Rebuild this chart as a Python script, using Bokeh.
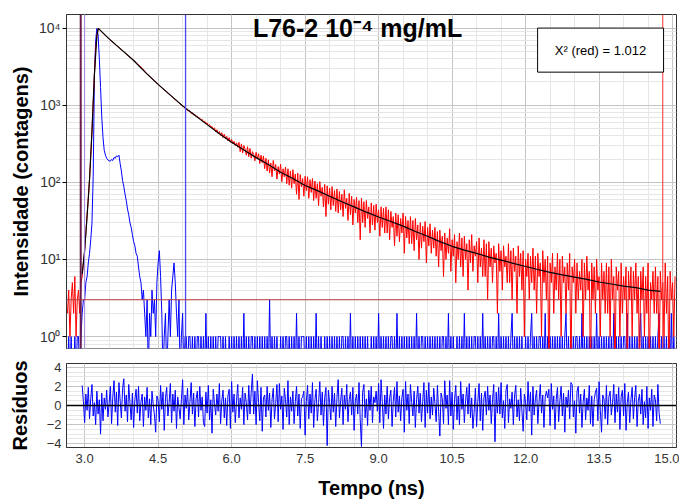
from bokeh.plotting import figure
from bokeh.layouts import column
from bokeh.models import (Range1d, FixedTicker, Span, BoxAnnotation, Label,
                          CustomJSTickFormatter, PrintfTickFormatter)
from bokeh.embed import file_html
from bokeh.resources import INLINE

# ---------------- data ----------------
channel_start = 2.65   # ns
channel_width = 0.025  # ns

decay_counts = [
    2, 4, 1, 3, 5, 2, 6, 1, 3, 4, 2, 5, 6, 9, 13, 22, 38, 62, 110, 220,
    470, 1100, 2550, 5200, 8100, 9800, 9600, 9250, 8900, 8600, 8300, 8000, 7750, 7480, 7240, 7010, 6780, 6560, 6350, 6150,
    5950, 5760, 5580, 5410, 5250, 5090, 4930, 4780, 4630, 4490, 4350, 4220, 4090, 3960, 3800, 3690, 3570, 3450, 3340, 3230,
    3120, 3010, 2900, 2760, 2640, 2560, 2460, 2380, 2290, 2220, 2140, 2070, 1990, 1930, 1860, 1800, 1740, 1690, 1630, 1580,
    1530, 1490, 1420, 1400, 1340, 1310, 1255, 1230, 1170, 1160, 1100, 1080, 1030, 1020, 965, 960, 905, 900, 850, 845,
    840, 780, 800, 745, 760, 715, 720, 690, 680, 640, 655, 610, 620, 580, 590, 545, 560, 520, 530, 490,
    510, 450, 480, 430, 455, 405, 440, 380, 420, 365, 395, 345, 380, 330, 360, 318, 340, 300, 325, 285,
    330, 250, 315, 240, 300, 270, 225, 290, 215, 275, 205, 250, 230, 190, 245, 200, 235, 175, 225, 180,
    220, 150, 205, 140, 196, 132, 178, 118, 192, 140, 170, 110, 160, 128, 172, 102, 150, 118, 158, 96,
    150, 92, 140, 84, 146, 96, 128, 70, 132, 60, 126, 88, 112, 66, 120, 78, 118, 62, 108, 74,
    112, 58, 104, 62, 96, 50, 102, 66, 86, 48, 94, 36, 90, 52, 84, 44, 88, 50, 78, 42,
    82, 40, 76, 44, 70, 36, 80, 46, 62, 32, 72, 38, 66, 28, 60, 40, 64, 30, 58, 18,
    62, 30, 56, 26, 58, 34, 48, 22, 54, 28, 50, 24, 52, 30, 44, 20, 48, 26, 46, 22,
    48, 22, 44, 18, 42, 26, 36, 15, 40, 20, 38, 17, 34, 22, 40, 12, 36, 19, 32, 16,
    36, 16, 32, 13, 34, 18, 28, 10, 30, 14, 27, 17, 31, 9, 26, 15, 29, 12, 24, 14,
    26, 11, 23, 8, 24, 13, 20, 6, 22, 10, 19, 12, 25, 7, 18, 11, 21, 5, 17, 10,
    22, 8, 19, 6, 20, 10, 16, 4, 18, 9, 21, 7, 15, 11, 17, 5, 19, 8, 14, 6,
    18, 6, 16, 3, 17, 8, 14, 5, 15, 9, 12, 2, 16, 7, 13, 4, 15, 8, 11, 5,
    16, 5, 13, 3, 14, 7, 11, 2, 15, 6, 12, 4, 13, 1, 10, 6, 12, 3, 11, 5,
    14, 4, 11, 2, 12, 6, 9, 1, 13, 5, 10, 3, 11, 0, 9, 5, 12, 2, 8, 4,
    12, 3, 10, 1, 11, 5, 8, 2, 9, 4, 12, 0, 8, 5, 10, 2, 9, 3, 7, 4,
    10, 1, 9, 3, 11, 4, 7, 0, 9, 3, 8, 2, 10, 4, 6, 1, 9, 3, 7, 2,
    9, 2, 8, 1, 10, 3, 6, 0, 8, 4, 7, 1, 9, 2, 6, 3, 8, 0, 7, 3,
    8, 1, 7, 3, 9, 2, 6, 0, 7, 3, 8, 1, 6, 2, 9, 0, 5, 3, 7, 2,
    8, 2, 6, 0, 7, 3, 5, 1, 9, 2, 6, 0, 7, 3, 5, 1, 6,
]

irf_counts = [
    0, 1, 0, 1, 0, 0, 1, 0, 1, 1, 0, 1, 2, 3, 3, 5, 6, 9, 12, 18,
    30, 120, 2500, 6800, 9900, 8200, 4000, 1700, 700, 380, 260, 225, 205, 195, 190, 188, 198, 192, 210, 205,
    220, 215, 225, 175, 140, 105, 88, 70, 58, 45, 38, 30, 26, 21, 17, 15, 12, 11, 8, 6,
    5, 3, 4, 2, 1, 3, 0, 2, 1, 4, 2, 3, 1, 5, 9, 13, 6, 2, 0, 1,
    2, 0, 1, 3, 1, 4, 6, 9, 5, 2, 1, 3, 0, 1, 2, 0, 1, 1, 0, 1,
    1, 0, 1, 0, 1, 0, 1, 1, 0, 1, 0, 1, 0, 2, 0, 1, 0, 1, 0, 1,
    0, 1, 0, 1, 1, 1, 0, 1, 0, 1, 0, 0, 1, 0, 1, 0, 1, 0, 1, 0,
    1, 0, 1, 0, 2, 0, 1, 0, 1, 0, 1, 1, 0, 1, 0, 1, 0, 1, 0, 1,
    0, 1, 0, 1, 0, 3, 0, 1, 0, 1, 0, 1, 0, 0, 1, 0, 1, 0, 1, 1,
    0, 1, 0, 1, 0, 1, 0, 2, 0, 1, 0, 1, 1, 1, 0, 1, 0, 1, 0, 1,
    0, 1, 0, 2, 0, 1, 0, 1, 0, 0, 1, 0, 1, 0, 1, 0, 1, 0, 1, 0,
    1, 0, 1, 0, 1, 1, 0, 1, 0, 1, 0, 2, 0, 1, 0, 1, 0, 1, 0, 1,
    0, 1, 0, 1, 0, 1, 0, 0, 1, 0, 1, 0, 1, 0, 2, 0, 1, 0, 1, 0,
    1, 0, 1, 0, 1, 1, 0, 1, 0, 2, 0, 1, 0, 1, 0, 1, 0, 1, 0, 1,
    0, 1, 0, 1, 0, 2, 0, 1, 0, 1, 1, 0, 1, 0, 1, 0, 1, 0, 1, 0,
    1, 0, 1, 0, 1, 0, 1, 1, 0, 1, 0, 2, 0, 1, 0, 1, 0, 0, 1, 0,
    1, 0, 1, 0, 2, 0, 1, 0, 1, 0, 1, 0, 1, 1, 0, 1, 0, 1, 0, 2,
    0, 1, 0, 1, 0, 1, 0, 1, 1, 0, 1, 0, 2, 0, 1, 0, 1, 0, 1, 0,
    1, 0, 1, 2, 0, 1, 0, 1, 0, 1, 0, 1, 0, 0, 1, 0, 1, 0, 1, 2,
    0, 1, 0, 1, 0, 1, 1, 0, 1, 0, 2, 0, 1, 0, 1, 0, 1, 0, 1, 0,
    1, 0, 1, 0, 1, 0, 1, 2, 0, 1, 0, 1, 0, 1, 0, 1, 1, 0, 1, 0,
    2, 0, 1, 0, 1, 0, 1, 0, 1, 0, 1, 0, 2, 0, 1, 0, 1, 0, 1, 0,
    1, 0, 1, 0, 1, 0, 2, 0, 1, 0, 1, 0, 1, 0, 1, 1, 0, 2, 0, 1,
    0, 1, 0, 1, 0, 1, 0, 1, 2, 0, 1, 0, 1, 0, 1, 0, 1, 0, 1, 0,
    1, 0, 1, 2, 0, 1, 0, 1, 0, 1, 0, 1, 0, 2, 0, 1, 0,
]

fit_time = [2.95, 3.00, 3.05, 3.10, 3.15, 3.20, 3.25, 3.28,
            3.50, 3.75, 4.00, 4.25, 4.50, 4.75, 5.00, 5.25, 5.50, 5.75,
            6.00, 6.25, 6.50, 6.75, 7.00, 7.25, 7.50, 7.75, 8.00, 8.25,
            8.50, 8.75, 9.00, 9.25, 9.50, 9.75, 10.00, 10.25, 10.50, 10.75,
            11.00, 11.25, 11.50, 11.75, 12.00, 12.25, 12.50, 12.75, 13.00,
            13.25, 13.50, 13.75, 14.00, 14.25, 14.50, 14.75]
fit_counts = [6.5, 13, 36, 108, 460, 2500, 8000, 9900,
              7240, 5250, 3800, 2630, 1860, 1350, 980, 740, 560, 427,
              331, 263, 209, 170, 135, 112, 91, 78, 66, 56,
              48, 41, 35.5, 31, 27, 23, 20, 17, 14.8, 13.2,
              12.0, 10.7, 9.8, 8.9, 8.1, 7.4, 6.8, 6.3, 5.9,
              5.5, 5.1, 4.8, 4.5, 4.3, 4.0, 3.85]

residual_start = 2.95
residuals = [
    2.1, 0.4, -1.8, 1.2, -0.5, 1.9, -1.4, 0.7, 2.2, -1.1, 0.3, -2.0, 1.5, -0.9, 0.6, -3.0, 1.3, -1.6, 0.8, -0.4,
    1.6, -1.2, 0.2, 2.0, -1.9, 0.9, 2.6, -0.7, 1.4, -2.1, 2.4, 0.5, -1.3, 1.8, 2.8, -0.6, 1.1, -1.7, 2.2, 0.3,
    -1.5, 1.3, -2.3, 0.6, 1.7, -0.8, 2.0, -1.6, 0.4, 1.2, -2.2, 0.9, -0.5, 1.9, -1.3, 0.7, -2.0, 1.5, 0.1, -1.0,
    -2.8, 1.0, 0.5, -1.7, 2.1, -0.4, 1.4, -2.6, 0.8, 1.9, -1.1, 0.3, 2.3, -1.8, 1.2, -0.6, 1.6, -2.4, 0.9, -0.2,
    -1.4, 0.6, 2.7, -2.0, 1.1, -0.3, 1.8, -1.5, 0.4, 2.4, -0.9, 1.3, -2.2, 0.7, 1.5, -1.2, 2.0, -0.5, 0.9, -1.8,
    -2.2, 1.4, -0.8, 2.1, -1.5, 0.6, -2.9, 1.7, 0.2, -1.0, 1.2, -0.6, 2.3, -1.9, 0.5, 1.6, -1.3, 0.8, -2.1, 1.0,
    1.7, -2.4, 2.5, -0.7, 1.2, -1.8, 0.5, 2.2, -1.3, 0.8, -0.4, 1.9, -2.0, 1.3, 0.3, -1.5, 2.1, -0.9, 1.4, 3.3,
    -0.9, 1.5, -2.0, 2.6, 0.3, -1.6, 1.9, -2.7, 0.8, 1.1, -1.2, 2.0, -0.5, 1.3, -2.3, 0.6, 1.8, -1.4, 0.2, 2.2,
    -1.7, 2.3, -0.4, 1.0, -2.5, 1.8, 0.6, -1.2, 2.6, -2.0, 0.9, -0.6, 1.5, -1.9, 0.4, 2.0, -1.1, 1.2, -2.4, 0.7,
    0.9, 1.5, -3.1, 0.4, 2.1, -1.4, 1.2, -0.8, 2.4, -2.3, 0.6, 1.7, -1.6, 0.3, 2.5, -1.0, 1.4, -2.1, 0.8, 1.9,
    -4.2, 1.6, 0.3, -1.5, 2.0, -0.7, 1.3, -2.2, 0.8, 2.7, -1.3, 0.5, 1.8, -2.0, 1.1, -0.4, 2.2, -1.7, 0.6, 1.4,
    -1.0, 1.9, -2.6, 0.5, 1.2, -0.9, 2.4, -1.5, -4.3, 1.4, 2.2, -1.3, 0.7, -2.1, 1.6, -0.5, 2.0, -1.8, 0.9, 0.3,
    1.5, -0.6, 2.3, -1.8, 2.7, 0.4, -2.4, 1.1, -0.9, 2.0, -1.4, 0.8, 1.6, -2.2, 0.5, 1.9, -1.2, 2.5, -0.7, 1.0,
    -1.6, 0.8, 1.7, -2.8, 2.5, -0.5, 1.2, -1.9, 2.2, 0.3, -1.1, 1.5, -2.3, 0.6, 2.0, -0.8, 1.3, -1.7, 0.4, 2.4,
    -2.3, 1.6, -0.8, 2.4, -1.4, 0.9, -1.0, 1.8, 0.2, -1.7, 2.1, -0.6, -3.2, 1.3, 0.7, -1.9, 2.6, -0.3, 1.1, -2.0,
    2.6, -1.1, 1.4, -2.5, 0.6, 2.1, -1.5, 1.0, -2.0, 2.5, -0.4, 1.2, -1.8, 0.5, 1.9, -0.9, 2.3, -1.3, 0.8, -2.4,
    -0.7, 1.8, -2.2, 0.4, 2.3, -1.6, 1.3, -2.6, 0.8, 1.5, -1.0, 2.0, -0.5, 1.1, -1.9, 0.6, 2.2, -3.8, 1.4, -0.8,
    1.9, -0.9, 2.4, -1.3, 0.5, -2.4, 1.6, 2.2, -1.8, 0.7, -0.3, 1.4, -2.0, 1.0, 2.1, -1.2, 0.6, -1.6, 1.8, -0.5,
    -2.7, 1.2, 0.3, -1.5, 2.5, -0.6, 1.4, -3.1, 2.0, -1.0, 0.7, 1.6, -1.9, 0.4, 2.2, -0.8, 1.1, -2.3, 0.9, 1.5,
    0.8, 1.7, -2.1, 2.3, -0.4, 1.0, -2.5, 0.6, 1.9, -1.7, 0.5, 2.0, -1.1, 1.3, -2.8, 0.9, -0.2, 1.6, -1.4, 2.4,
    2.2, -1.2, 0.5, -2.9, 1.5, 2.0, -0.8, 1.2, -2.3, 0.4, 1.7, -1.5, 0.8, -0.5, 2.1, -1.9, 1.0, -2.2, 0.6, 1.4,
    1.8, -1.6, 2.5, -0.5, -2.8, 1.1, 0.7, -1.4, 2.1, -2.0, 0.9, 1.5, -1.0, 0.3, 2.2, -1.8, 1.2, -0.7, 1.9, -2.5,
    0.9, 1.6, -1.1, 2.3, -2.6, 0.3, 1.4, -1.8, 0.6, 1.9, -1.4, 0.8, 2.1, -2.2, 0.5, 1.2, -0.9, 1.7, -2.0, 0.4,
    -1.3, 2.0, -2.4, 0.8, -0.5, 1.7, -2.2, 1.1, 0.6, -1.6, 2.2, -0.8, -1.9,
]

# fit window / marker settings (ns, counts)
fit_window_start = 2.92
irf_marker = 3.0
irf_window_end = 5.06
fit_window_end = 14.8
baseline_level = 3.0
chi2_text = "X\u00b2 (red) = 1.012"
title_text = "L76-2 10\u207b\u2074 mg/mL"
x_label = "Tempo (ns)"
y_label_top = "Intensidade (contagens)"
y_label_bottom = "Resíduos"

x_major = [3.0, 4.5, 6.0, 7.5, 9.0, 10.5, 12.0, 13.5, 15.0]
y_decades = [1, 10, 100, 1000, 10000]
resid_ticks = [-4, -2, 0, 2, 4]

# ---------------- derived ----------------
FONT = "Liberation Sans"
zero_floor = 0.3
channel_time = [round(channel_start + channel_width * i, 4) for i in range(len(decay_counts))]
irf_time = [round(channel_start + channel_width * i, 4) for i in range(len(irf_counts))]
residual_time = [round(residual_start + channel_width * i, 4) for i in range(len(residuals))]
decay_plot = [c if c > 0 else zero_floor for c in decay_counts]
irf_plot = [c if c > 0 else zero_floor for c in irf_counts]

x_minor = [round(2.5 + 0.5 * k, 2) for k in range(27)]
y_minor = [m * 10 ** e for e in range(-1, 5) for m in range(2, 10)]
r_minor = [round(-5 + 0.5 * k, 2) for k in range(21)]

x_range = Range1d(2.63, 15.08)

MAJ_GRID = "#c4c4c4"
MIN_GRID = "#e6e6e6"

# ---------------- top panel ----------------
top = figure(width=679, height=355, y_axis_type="log", x_range=x_range,
             y_range=Range1d(0.7, 15000), output_backend="svg",
             toolbar_location=None, min_border_left=66, min_border_right=3,
             min_border_top=14, min_border_bottom=7)
top.xaxis.visible = False
top.xgrid.ticker = FixedTicker(ticks=x_major, minor_ticks=x_minor)
top.xgrid.grid_line_color = MAJ_GRID
top.xgrid.minor_grid_line_color = MIN_GRID
top.yaxis.ticker = FixedTicker(ticks=y_decades, minor_ticks=y_minor)
top.ygrid.grid_line_color = MAJ_GRID
top.ygrid.minor_grid_line_color = MIN_GRID
top.yaxis.formatter = CustomJSTickFormatter(code="""
const sup = {'0':'\u2070','1':'\u00b9','2':'\u00b2','3':'\u00b3','4':'\u2074','-':'\u207b'};
const e = Math.round(Math.log10(tick));
return '10' + String(e).split('').map(c => sup[c]).join('');
""")
top.yaxis.axis_label = y_label_top
top.yaxis.axis_label_standoff = 4
top.yaxis.major_label_text_font = FONT
top.yaxis.major_label_text_font_size = "14px"
top.yaxis.major_label_text_color = "#333333"
top.yaxis.major_label_standoff = 2
top.yaxis.major_tick_out = 4
top.yaxis.major_tick_in = 0
top.yaxis.minor_tick_out = 0
top.yaxis.minor_tick_in = 0
top.yaxis.axis_line_color = "#333333"
top.outline_line_color = "#333333"
top.outline_line_alpha = 1

top.line(irf_time, irf_plot, line_color="#0000ff", line_width=1)
top.line(channel_time, decay_plot, line_color="#ff0000", line_width=1)
top.line(fit_time, fit_counts, line_color="#000000", line_width=1.2)

top.add_layout(Span(location=fit_window_start, dimension="height", line_color="#6a1b4d", line_width=2))
top.add_layout(Span(location=irf_marker, dimension="height", line_color="#a48be0", line_width=1))
top.add_layout(Span(location=irf_window_end, dimension="height", line_color="#4848ee", line_width=1.3))
top.add_layout(Span(location=fit_window_end, dimension="height", line_color="#ff3030", line_width=1))
top.add_layout(Span(location=baseline_level, dimension="width", line_color="#b83a3a", line_width=1))

top.add_layout(Label(x=8.57, y=9900, text=title_text, text_font=FONT,
                     text_font_style="bold", text_font_size="25px",
                     text_align="center", text_baseline="middle", text_color="#000000"))
top.add_layout(BoxAnnotation(left=12.245, right=14.816, bottom=2683, top=10000,
                             fill_color="white", fill_alpha=1,
                             line_color="#000000", line_width=1, line_alpha=1))
top.add_layout(Label(x=13.53, y=5180, text=chi2_text, text_font=FONT,
                     text_font_size="13px", text_align="center",
                     text_baseline="middle", text_color="#000000"))

# ---------------- residual panel ----------------
bot = figure(width=679, height=148, x_range=x_range, y_range=Range1d(-4.4, 4.4),
             output_backend="svg", toolbar_location=None, min_border_left=66,
             min_border_right=3, min_border_top=8, min_border_bottom=56)
bot.xaxis.ticker = FixedTicker(ticks=x_major, minor_ticks=x_minor)
bot.xaxis.formatter = PrintfTickFormatter(format="%.1f")
bot.xgrid.grid_line_color = MAJ_GRID
bot.xgrid.minor_grid_line_color = MIN_GRID
bot.yaxis.ticker = FixedTicker(ticks=resid_ticks, minor_ticks=r_minor)
bot.ygrid.grid_line_color = MAJ_GRID
bot.ygrid.minor_grid_line_color = MIN_GRID
bot.xaxis.axis_label = x_label
bot.yaxis.axis_label = y_label_bottom
for ax in (bot.xaxis, bot.yaxis):
    ax.major_label_text_font = FONT
    ax.major_label_text_font_size = "13px"
    ax.major_label_text_color = "#333333"
    ax.major_tick_out = 0
    ax.major_tick_in = 0
    ax.minor_tick_out = 0
    ax.minor_tick_in = 0
    ax.axis_line_color = "#333333"
bot.xaxis.major_label_standoff = 6
bot.xaxis.axis_label_standoff = 11
bot.yaxis.major_label_standoff = 5
bot.yaxis.axis_label_standoff = 13
bot.outline_line_color = "#333333"

for ax in (top.yaxis, bot.xaxis, bot.yaxis):
    ax.axis_label_text_font = FONT
    ax.axis_label_text_font_style = "bold"
    ax.axis_label_text_font_size = "20px"
    ax.axis_label_text_color = "#000000"

bot.line(residual_time, residuals, line_color="#0000ff", line_width=1)
bot.add_layout(Span(location=0, dimension="width", line_color="#000000", line_width=1.5))

p = column(top, bot)
open("out.html", "w").write(file_html(p, INLINE))
